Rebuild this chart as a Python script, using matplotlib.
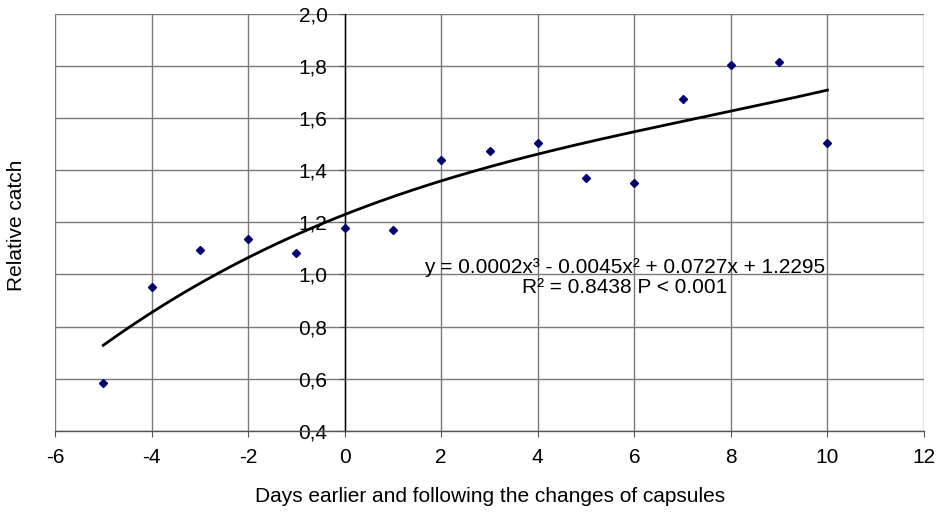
import matplotlib
matplotlib.use("Agg")
import matplotlib.pyplot as plt
import numpy as np
from matplotlib.ticker import FuncFormatter

plt.rcParams['font.family'] = ['Liberation Sans', 'DejaVu Sans']
plt.rcParams['axes.unicode_minus'] = False

days = [-5, -4, -3, -2, -1, 0, 1, 2, 3, 4, 5, 6, 7, 8, 9, 10]
catch = [0.585, 0.952, 1.092, 1.135, 1.083, 1.178, 1.170, 1.438, 1.473, 1.502,
         1.368, 1.350, 1.674, 1.804, 1.813, 1.503]
trend_coefs = [0.0002, -0.0045, 0.0727, 1.2295]
xticks = [-6, -4, -2, 0, 2, 4, 6, 8, 10, 12]
yticks = [0.4, 0.6, 0.8, 1.0, 1.2, 1.4, 1.6, 1.8, 2.0]
eq_text = "y = 0.0002x³ - 0.0045x² + 0.0727x + 1.2295"
r2_text = "R² = 0.8438 P < 0.001"

FS = 15

fig = plt.figure(figsize=(9.44, 5.14), dpi=100)
ax = fig.add_axes([55/944, 1-431/514, (924-55)/944, (431-13.5)/514])

ax.set_xlim(-6, 12)
ax.set_ylim(0.4, 2.0)
ax.set_xticks(xticks)
ax.set_yticks(yticks)
ax.yaxis.set_major_formatter(FuncFormatter(lambda v, p: f"{v:.1f}".replace('.', ',')))

ax.grid(True, color='#7a7a7a', linewidth=1.0)
ax.set_axisbelow(True)

for s in ['top', 'right']:
    ax.spines[s].set_visible(False)
ax.spines['left'].set_position(('data', 0))
ax.spines['left'].set_color('#000000')
ax.spines['left'].set_linewidth(1.0)
ax.spines['bottom'].set_color('#555555')
ax.spines['bottom'].set_linewidth(1.0)

ax.tick_params(axis='both', direction='out', length=4.3, width=0.8, labelsize=FS,
               color='#555555')
ax.tick_params(axis='x', pad=8)
ax.tick_params(axis='y', pad=8)

xs = np.linspace(min(days), max(days), 200)
ax.plot(xs, np.polyval(trend_coefs, xs), color='black', linewidth=2.0, zorder=3)
ax.plot(days, catch, linestyle='none', marker='D', markersize=4.2,
        color='#000066', markeredgecolor='#000080', zorder=4)

ax.text(5.8, 1.028, eq_text, ha='center', va='center', fontsize=FS, zorder=5)
ax.text(5.8, 0.951, r2_text, ha='center', va='center', fontsize=FS, zorder=5)

fig.text(17/944, 1-225/514, "Relative catch", rotation=90, ha='center', va='center',
         fontsize=FS)
fig.text(490/944, 1-497/514, "Days earlier and following the changes of capsules",
         ha='center', va='center', fontsize=FS)

fig.savefig("out.png", dpi=100)
